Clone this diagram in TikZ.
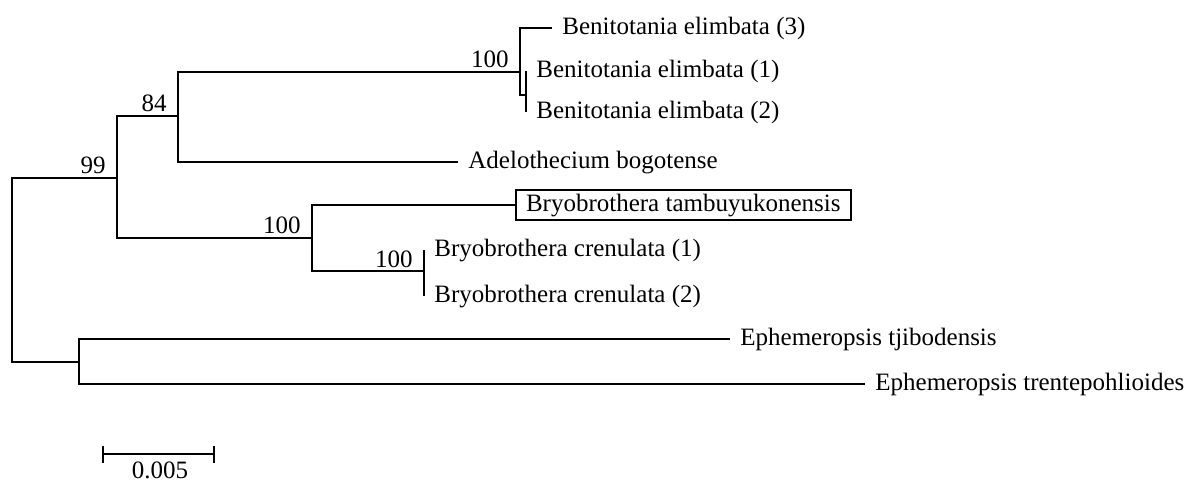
\documentclass[tikz,border=0pt]{standalone}
\usepackage{fontspec}
\setmainfont{Liberation Serif}
\tikzstyle{branch}=[line width=1.3pt]
\tikzstyle{taxon}=[anchor=west, inner xsep=5pt, inner ysep=0pt, text height=0.66em, text depth=0pt]
\tikzstyle{boxtaxon}=[taxon, draw, line width=1pt, inner xsep=5pt, inner ysep=4pt]
\tikzstyle{support}=[anchor=base east, inner sep=0pt, xshift=-5.5pt, yshift=2pt]

\begin{document}
\begin{tikzpicture}[x=0.5pt, y=-0.5pt, font=\fontsize{12.5}{15}\selectfont]
        \useasboundingbox (0, 0) rectangle (1189, 481);
        \coordinate (root)   at (12, 270);
        \coordinate (n99)    at (117, 178);
        \coordinate (n84)    at (178, 116);
        \coordinate (nBen)   at (520, 72);
        \coordinate (nBen12) at (526, 95);
        \coordinate (nBryo)  at (312, 238);
        \coordinate (nCren)  at (424, 271);
        \coordinate (nEph)   at (79, 362);
        \node[taxon]    (ben3)  at (552, 28)  {Benitotania elimbata (3)};
        \node[taxon]    (ben1)  at (526, 71)  {Benitotania elimbata (1)};
        \node[taxon]    (ben2)  at (526, 112) {Benitotania elimbata (2)};
        \node[taxon]    (adel)  at (458, 162) {Adelothecium bogotense};
        \node[boxtaxon] (tamb)  at (515, 205) {Bryobrothera tambuyukonensis};
        \node[taxon]    (cren1) at (424, 250) {Bryobrothera crenulata (1)};
        \node[taxon]    (cren2) at (424, 296) {Bryobrothera crenulata (2)};
        \node[taxon]    (tjib)  at (730, 339) {Ephemeropsis tjibodensis};
        \node[taxon]    (trent) at (865, 384) {Ephemeropsis trentepohlioides};
        \node[support]  (s99)   at (n99)   {99};
        \node[support]  (s84)   at (n84)   {84};
        \node[support]  (sBen)  at (nBen)  {100};
        \node[support]  (sBryo) at (nBryo) {100};
        \node[support]  (sCren) at (nCren) {100};
        \draw[branch] (root) |- (n99);
        \draw[branch] (root) |- (nEph);
        \draw[branch] (n99) |- (n84);
        \draw[branch] (n99) |- (nBryo);
        \draw[branch] (n84) |- (nBen);
        \draw[branch] (n84) |- (adel.west);
        \draw[branch] (nBen) |- (ben3.west);
        \draw[branch] (nBen) |- (nBen12);
        \draw[branch] (nBen12) |- (ben1.west);
        \draw[branch] (nBen12) |- (ben2.west);
        \draw[branch] (nBryo) |- (tamb.west);
        \draw[branch] (nBryo) |- (nCren);
        \draw[branch] (nCren) |- (cren1.west);
        \draw[branch] (nCren) |- (cren2.west);
        \draw[branch] (nEph) |- (tjib.west);
        \draw[branch] (nEph) |- (trent.west);
        \coordinate (sbL) at (103, 454);
        \coordinate (sbR) at (214, 454);
        \node (sbText) at (160, 470) {0.005};
        \draw[branch] (sbL) -- (sbR);
        \draw[branch] ([yshift=4.25pt]sbL) -- ([yshift=-4.25pt]sbL);
        \draw[branch] ([yshift=4.25pt]sbR) -- ([yshift=-4.25pt]sbR);
    \end{tikzpicture}
\end{document}
